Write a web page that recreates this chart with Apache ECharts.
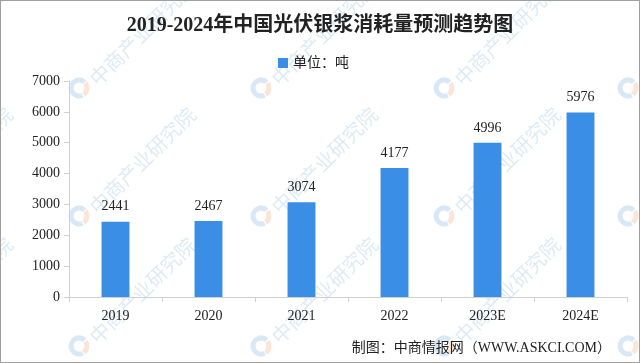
<!DOCTYPE html>
<html>
<head>
<meta charset="utf-8">
<script src="https://cdn.jsdelivr.net/npm/echarts@6/dist/echarts.min.js"></script>
<style>
html,body{margin:0;padding:0;background:#fff;}
#chart{width:640px;height:363px;box-sizing:border-box;border:1px solid #a0a0a0;}
</style>
</head>
<body>
<div id="chart"></div>
<script>
const titleText = '2019-2024年中国光伏银浆消耗量预测趋势图';
const seriesName = '单位：吨';
const categories = ['2019', '2020', '2021', '2022', '2023E', '2024E'];
const values = [2441, 2467, 3074, 4177, 4996, 5976];
const yTicks = [0, 1000, 2000, 3000, 4000, 5000, 6000, 7000];
const sourceText = '制图：中商情报网（WWW.ASKCI.COM）';
const watermarkText = '中商产业研究院';

const FONT = '"Liberation Serif", "Noto Sans CJK SC", serif';
const chart = echarts.init(document.getElementById('chart'), null, {renderer: 'canvas'});

// decorative watermarks
const wm = [];
const xs = [-105, 78, 260, 443, 627];
const ys = [-43, 87, 215, 345];
xs.forEach(x => ys.forEach(y => {
  wm.push({
    type: 'arc', silent: true, z: -1,
    shape: {cx: x, cy: y, r: 8, startAngle: Math.PI * 0.35, endAngle: Math.PI * 1.75},
    style: {stroke: 'rgba(80,150,210,0.22)', lineWidth: 5, fill: null}
  });
  wm.push({
    type: 'arc', silent: true, z: -1,
    shape: {cx: x, cy: y, r: 8, startAngle: Math.PI * 1.8, endAngle: Math.PI * 2.3},
    style: {stroke: 'rgba(235,150,90,0.25)', lineWidth: 5, fill: null}
  });
  wm.push({
    type: 'text', silent: true, z: -1,
    x: x + 14, y: y - 6, rotation: Math.PI / 4,
    style: {text: watermarkText, font: '20px "Noto Sans CJK SC"', fill: 'rgba(90,150,205,0.2)', textVerticalAlign: 'middle'}
  });
}));

chart.setOption({
  backgroundColor: 'transparent',
  animation: false,
  title: {
    text: titleText, left: 'center', top: 10,
    textStyle: {fontFamily: FONT, fontSize: 20, fontWeight: 'bold', color: '#222'}
  },
  legend: {
    data: [seriesName], left: 272, top: 50,
    itemWidth: 10, itemHeight: 10, itemGap: 6,
    icon: 'rect',
    textStyle: {fontFamily: FONT, fontSize: 14, color: '#222'}
  },
  grid: {left: 68, right: 12, top: 80, bottom: 65, containLabel: false},
  xAxis: {
    type: 'category', data: categories,
    axisLine: {lineStyle: {color: '#d0d0d0'}},
    axisTick: {show: true, length: 5, lineStyle: {color: '#d0d0d0'}},
    axisLabel: {fontFamily: FONT, fontSize: 14, color: '#222', margin: 12}
  },
  yAxis: {
    type: 'value', min: yTicks[0], max: yTicks[yTicks.length - 1], interval: 1000,
    axisLine: {show: true, lineStyle: {color: '#d0d0d0'}},
    axisTick: {show: true, length: 5, lineStyle: {color: '#d0d0d0'}},
    splitLine: {show: false},
    axisLabel: {fontFamily: FONT, fontSize: 14, color: '#222', margin: 9, formatter: v => String(v)}
  },
  series: [{
    name: seriesName, type: 'bar', data: values,
    barWidth: '30%',
    itemStyle: {color: '#3a8ee6'},
    label: {show: true, position: 'top', distance: 8, fontFamily: FONT, fontSize: 14, color: '#222'}
  }],
  graphic: wm.concat([{
    type: 'text', right: 28, top: 340,
    style: {text: sourceText, font: '14px "Liberation Serif", "Noto Sans CJK SC"', fill: '#222'}
  }])
});
</script>
</body>
</html>
